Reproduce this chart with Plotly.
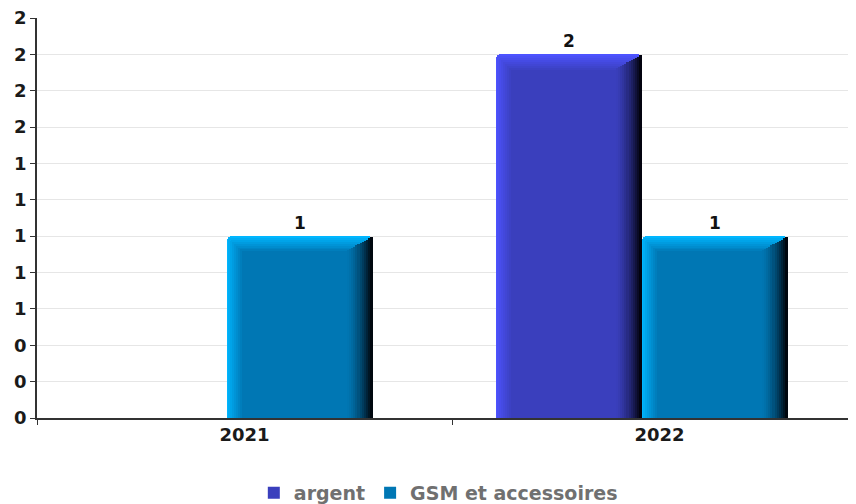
import plotly.graph_objects as go

# ---- data ----
years = ["2021", "2022"]
series_names = ["argent", "GSM et accessoires"]
argent = [0, 2]
gsm = [1, 1]
y_tick_values = [0, 0.2, 0.4, 0.6, 0.8, 1.0, 1.2, 1.4, 1.6, 1.8, 2.0, 2.2]

# ---- style ----
PX = 1 / 415.0          # x units per pixel (category width ~415px)
PY = 1 / 182.0          # y units per pixel (1 unit ~182px)
BAR_W = 146 * PX
offsets = [-164 * PX, -18 * PX]
styles = [
    dict(bright="#4d53ff", main="#3a3fbd", dark="#03030f"),
    dict(bright="#00b6ff", main="#0077b4", dark="#00070f"),
]


def mix(c1, c2, t):
    a = [int(c1[i:i + 2], 16) for i in (1, 3, 5)]
    b = [int(c2[i:i + 2], 16) for i in (1, 3, 5)]
    return "#%02x%02x%02x" % tuple(round(a[k] + (b[k] - a[k]) * t) for k in range(3))


def top(vals, px_down):
    return [max(v - px_down * PY, 0) for v in vals]


fig = go.Figure()

for name, vals, off, st in zip(series_names, [argent, gsm], offsets, styles):
    labels = [str(v) if v else "" for v in vals]
    # outer bright body
    fig.add_trace(go.Bar(
        x=years, y=vals, offset=off, width=BAR_W,
        marker=dict(color=st["bright"], line_width=0, cornerradius=5),
        showlegend=False, hoverinfo="skip",
        text=labels, textposition="outside",
        textfont=dict(family="DejaVu Sans", size=17, color="#111111", weight="bold"),
        cliponaxis=False,
    ))
    # left + top bevel (bright -> main)
    K = 8
    for k in range(1, K + 1):
        t = k / K
        dl = k * 1.9
        fig.add_trace(go.Bar(
            x=years, y=top(vals, k * 1.9),
            offset=off + dl * PX, width=BAR_W - dl * PX,
            marker=dict(color=mix(st["bright"], st["main"], t ** 0.9), line_width=0,
                        cornerradius=3 if k < 3 else 0),
            name=name, showlegend=(k == K),
            hoverinfo="skip" if k < K else None,
        ))
    # right dark bevel (main -> dark)
    R = 26.0
    n = 12
    for j in range(n):
        t = (j + 1) / n
        xs = R * j / n
        fig.add_trace(go.Bar(
            x=years, y=top(vals, 15 - 14 * (j + 1) / n),
            offset=off + BAR_W - (R - xs) * PX, width=(R - xs) * PX,
            marker=dict(color=mix(st["main"], st["dark"], t ** 1.6), line_width=0),
            showlegend=False, hoverinfo="skip",
        ))

# the page body adds an 8px offset, so the figure is 8px smaller and shifted
fig.update_layout(
    width=848, height=496,
    margin=dict(l=29, r=0, t=10, b=86, autoexpand=False),
    paper_bgcolor="white", plot_bgcolor="white",
    barmode="overlay", bargap=0,
    font=dict(family="DejaVu Sans", size=16, color="#222222"),
    xaxis=dict(
        type="category", range=[-0.5, -0.5 + 819 / 415],
        showline=True, linecolor="#333333", linewidth=1.5,
        ticks="outside", tickson="boundaries", ticklen=5, tickcolor="#333333",
        tickfont=dict(family="DejaVu Sans", size=18, color="#1a1a1a", weight="bold"),
        showgrid=False, zeroline=False, automargin=False,
    ),
    yaxis=dict(
        range=[0, 2.2], tickvals=y_tick_values, tickformat=".0f",
        showline=True, linecolor="#333333", linewidth=1.5,
        ticks="outside", ticklen=5, tickcolor="#333333",
        tickfont=dict(family="DejaVu Sans", size=18, color="#1a1a1a", weight="bold"),
        showgrid=True, gridcolor="#e6e6e6", gridwidth=1, zeroline=False,
        automargin=False, ticklabeloverflow="allow",
    ),
    legend=dict(
        orientation="h", x=0.49, xanchor="center", y=-0.1875, yanchor="middle",
        font=dict(family="DejaVu Sans", size=19, color="#707070", weight="bold"),
        itemclick=False, traceorder="normal", tracegroupgap=0,
    ),
)

fig.write_html("out.html")
